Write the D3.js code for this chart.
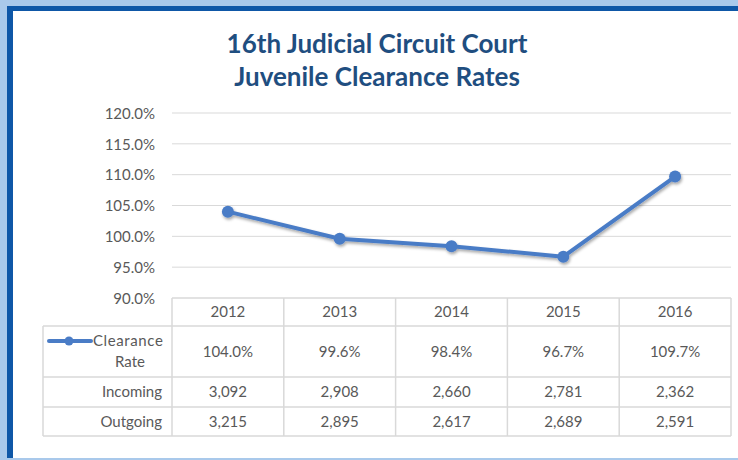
<!DOCTYPE html>
<html>
<head>
<meta charset="utf-8">
<script src="https://cdn.jsdelivr.net/npm/d3@7"></script>
<style>
  html, body { margin: 0; padding: 0; background: #a9c9eb; }
  svg { display: block; }
</style>
</head>
<body>
<div id="chart"></div>
<script>
const years = ["2012", "2013", "2014", "2015", "2016"];
const clearanceRate = [104.0, 99.6, 98.4, 96.7, 109.7];
const incoming = [3092, 2908, 2660, 2781, 2362];
const outgoing = [3215, 2895, 2617, 2689, 2591];
const yTicks = [90, 95, 100, 105, 110, 115, 120];
const titleLines = ["16th Judicial Circuit Court", "Juvenile Clearance Rates"];

const W = 738, H = 460;
const lineColor = "#4a7cc6";
const textColor = "#595959";
const gridColor = "#d9d9d9";
const font = "Lato, sans-serif";
const fontSize = 15;

const svg = d3.select("#chart").append("svg")
    .attr("width", W)
    .attr("height", H);

// frame
svg.append("rect").attr("x", 0).attr("y", 0).attr("width", W).attr("height", H).attr("fill", "#a9c9eb");
svg.append("rect").attr("x", 7).attr("y", 6).attr("width", W - 7).attr("height", H - 8).attr("fill", "#0e57a7");
svg.append("rect").attr("x", 13).attr("y", 11).attr("width", W - 13).attr("height", H - 13).attr("fill", "#ffffff");

const defs = svg.append("defs");
const shadow = defs.append("filter").attr("id", "shadow")
    .attr("x", "-20%").attr("y", "-20%").attr("width", "140%").attr("height", "160%");
shadow.append("feDropShadow")
    .attr("dx", 1).attr("dy", 2).attr("stdDeviation", 1.5)
    .attr("flood-color", "#000").attr("flood-opacity", 0.35);

// title
svg.append("g").selectAll("text")
    .data(titleLines)
    .join("text")
    .attr("x", 377)
    .attr("y", (d, i) => 53 + i * 33)
    .attr("text-anchor", "middle")
    .attr("font-family", "Lato, sans-serif")
    .attr("font-weight", "bold")
    .attr("font-size", 26)
    .attr("fill", "#1f4e80")
    .text(d => d);

const plotLeft = 172, plotRight = 731;
const plotTop = 113, plotBottom = 298;

const x = d3.scaleBand().domain(years).range([plotLeft, plotRight]);
const y = d3.scaleLinear().domain([90, 120]).range([plotBottom, plotTop]);

// gridlines
svg.append("g").selectAll("line")
    .data(yTicks.filter(t => t > 90))
    .join("line")
    .attr("x1", plotLeft).attr("x2", plotRight)
    .attr("y1", d => y(d)).attr("y2", d => y(d))
    .attr("stroke", gridColor).attr("stroke-width", 1);

// y axis labels
const yAxis = svg.append("g")
    .attr("transform", `translate(${plotLeft - 17},0)`)
    .call(d3.axisLeft(y).tickValues(yTicks).tickSize(0).tickPadding(0).tickFormat(d => d.toFixed(1) + "%"));
yAxis.select(".domain").remove();
yAxis.selectAll("text")
    .attr("font-family", font)
    .attr("font-size", fontSize)
    .attr("fill", textColor)
    .attr("dy", "0.35em");

// line
const cx = d => x(d) + x.bandwidth() / 2;
const series = svg.append("g").attr("filter", "url(#shadow)");
series.append("path")
    .datum(clearanceRate)
    .attr("fill", "none")
    .attr("stroke", lineColor)
    .attr("stroke-width", 4)
    .attr("stroke-linejoin", "round")
    .attr("d", d3.line().x((d, i) => cx(years[i])).y(d => y(d)));
series.selectAll("circle")
    .data(clearanceRate)
    .join("circle")
    .attr("cx", (d, i) => cx(years[i]))
    .attr("cy", d => y(d))
    .attr("r", 6)
    .attr("fill", lineColor);

// data table
const tableLeft = 43;
const rowBounds = [298, 326, 377, 407, 436];
const rows = [
    { label: null, values: years },
    { label: ["Clearance", "Rate"], values: clearanceRate.map(d => d.toFixed(1) + "%") },
    { label: ["Incoming"], values: incoming.map(d3.format(",")) },
    { label: ["Outgoing"], values: outgoing.map(d3.format(",")) }
];

const table = svg.append("g");
const border = { stroke: "#d9d9d9", width: 1.5 };

// horizontal lines
table.append("line")
    .attr("x1", plotLeft).attr("x2", plotRight)
    .attr("y1", rowBounds[0]).attr("y2", rowBounds[0])
    .attr("stroke", border.stroke).attr("stroke-width", border.width);
table.selectAll("line.h")
    .data(rowBounds.slice(1))
    .join("line")
    .attr("class", "h")
    .attr("x1", tableLeft).attr("x2", plotRight)
    .attr("y1", d => d).attr("y2", d => d)
    .attr("stroke", border.stroke).attr("stroke-width", border.width);

// vertical lines
const colEdges = years.map(d => x(d)).concat([plotRight]);
table.selectAll("line.v")
    .data(colEdges)
    .join("line")
    .attr("class", "v")
    .attr("x1", d => d).attr("x2", d => d)
    .attr("y1", rowBounds[0]).attr("y2", rowBounds[4])
    .attr("stroke", border.stroke).attr("stroke-width", border.width);
table.append("line")
    .attr("x1", tableLeft).attr("x2", tableLeft)
    .attr("y1", rowBounds[1]).attr("y2", rowBounds[4])
    .attr("stroke", border.stroke).attr("stroke-width", border.width);

rows.forEach((row, r) => {
    const mid = (rowBounds[r] + rowBounds[r + 1]) / 2;
    table.append("g").selectAll("text")
        .data(row.values)
        .join("text")
        .attr("x", (d, i) => cx(years[i]))
        .attr("y", mid)
        .attr("dy", "0.35em")
        .attr("text-anchor", "middle")
        .attr("font-family", font)
        .attr("font-size", fontSize)
        .attr("fill", textColor)
        .text(d => d);
    if (row.label && row.label.length === 1) {
        table.append("text")
            .attr("x", plotLeft - 10)
            .attr("y", mid)
            .attr("dy", "0.35em")
            .attr("text-anchor", "end")
            .attr("font-family", font)
            .attr("font-size", fontSize)
            .attr("fill", textColor)
            .text(row.label[0]);
    }
});

// legend inside the clearance row
const legendY = 341;
table.append("line")
    .attr("x1", 49).attr("x2", 91)
    .attr("y1", legendY).attr("y2", legendY)
    .attr("stroke", lineColor).attr("stroke-width", 4).attr("stroke-linecap", "round");
table.append("circle")
    .attr("cx", 69).attr("cy", legendY).attr("r", 4.5).attr("fill", lineColor);
table.append("text")
    .attr("x", 93).attr("y", legendY).attr("dy", "0.35em")
    .attr("font-family", font).attr("font-size", fontSize).attr("fill", textColor)
    .attr("letter-spacing", 0.6)
    .text(rows[1].label[0]);
table.append("text")
    .attr("x", 130).attr("y", 362).attr("dy", "0.35em")
    .attr("text-anchor", "middle")
    .attr("font-family", font).attr("font-size", fontSize).attr("fill", textColor)
    .text(rows[1].label[1]);

// bottom light strip
svg.append("rect").attr("x", 13).attr("y", H - 2).attr("width", W - 13).attr("height", 2).attr("fill", "#a9c9eb");
</script>
</body>
</html>
